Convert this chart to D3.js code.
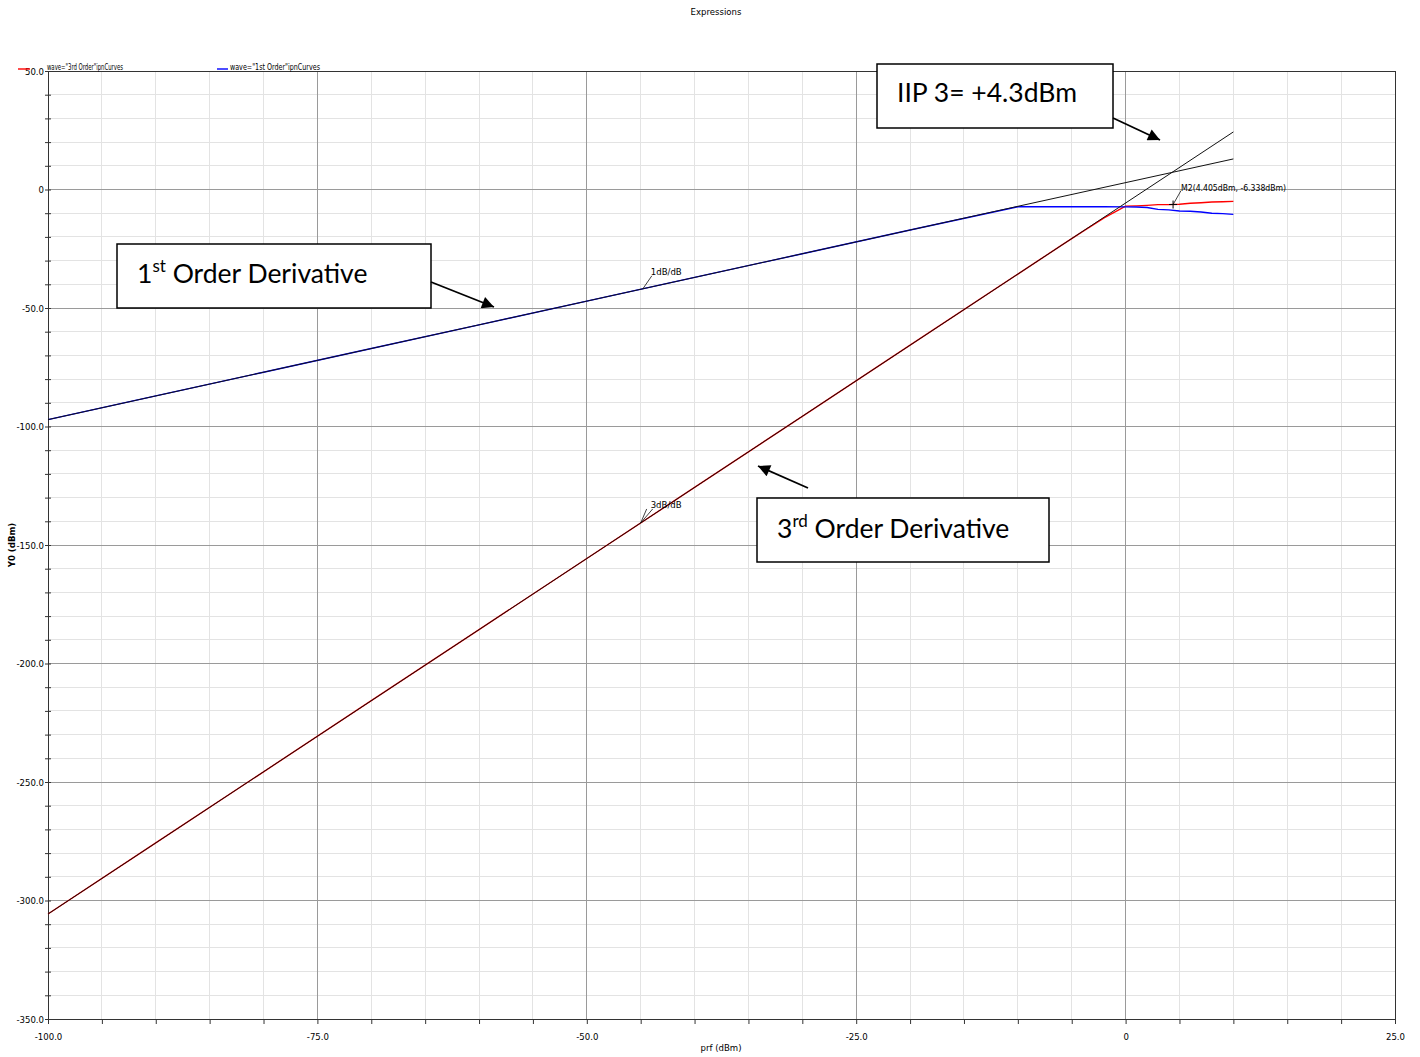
<!DOCTYPE html>
<html>
<head>
<meta charset="utf-8">
<script src="https://cdn.jsdelivr.net/npm/d3@7"></script>
<style>
  html, body { margin: 0; padding: 0; background: #fff; }
  svg { display: block; }
  .small { font-family: "Liberation Sans Narrow", "DejaVu Sans Condensed", sans-serif; font-size: 9.5px; fill: #000; }
  .note { font-family: Lato, "Open Sans", sans-serif; font-size: 26.5px; fill: #000; }
</style>
</head>
<body>
<svg id="chart" width="1420" height="1057"></svg>
<script>
// Input power sweep (dBm)
const prf = [-100, -90, -80, -70, -60, -50, -40, -30, -20, -10, -8, -6, -4, -2, 0, 1, 2, 3, 4, 5, 6, 7, 8, 9, 10];
// 1st order (fundamental) output, dBm
const firstOrder = [-97.1, -87.1, -77.1, -67.1, -57.1, -47.1, -37.1, -27.1, -17.1, -7.3, -7.3, -7.3, -7.3, -7.3, -7.35, -7.4, -7.6, -8.4, -8.6, -9.1, -9.2, -9.5, -10.0, -10.2, -10.5];
// 3rd order intermod output, dBm
const thirdOrder = [-305.7, -275.7, -245.7, -215.7, -185.7, -155.7, -125.7, -95.7, -65.7, -35.7, -29.7, -23.7, -17.8, -12.0, -7.0, -6.9, -6.7, -6.4, -6.4, -6.2, -5.8, -5.6, -5.3, -5.2, -5.0];
// Extrapolated 1 dB/dB and 3 dB/dB lines (end points)
const fitX = [-100, 10];
const fit1 = [-97.1, 12.9];
const fit3 = [-305.7, 24.3];
// Marker M2
const markerX = 4.405, markerY = -6.338;
const iip3 = 4.3;

const xTicks = [-100, -75, -50, -25, 0, 25];
const xTickLabels = ["-100.0", "-75.0", "-50.0", "-25.0", "0", "25.0"];
const yTicks = [50, 0, -50, -100, -150, -200, -250, -300, -350];
const yTickLabels = ["50.0", "0", "-50.0", "-100.0", "-150.0", "-200.0", "-250.0", "-300.0", "-350.0"];

const svg = d3.select("#chart");
const x = d3.scaleLinear().domain([-100, 25]).range([48, 1395]);
const y = d3.scaleLinear().domain([-350, 50]).range([1019, 71]);

// Grid: minor then major
const grid = svg.append("g");
grid.selectAll(".vmin").data(d3.range(-95, 25, 5).filter(v => v % 25 !== 0)).join("line")
  .attr("x1", d => x(d)).attr("x2", d => x(d)).attr("y1", y(50)).attr("y2", y(-350))
  .attr("stroke", "#e3e3e3").attr("stroke-width", 1).attr("shape-rendering", "crispEdges");
grid.selectAll(".hmin").data(d3.range(-340, 50, 10).filter(v => v % 50 !== 0)).join("line")
  .attr("x1", x(-100)).attr("x2", x(25)).attr("y1", d => y(d)).attr("y2", d => y(d))
  .attr("stroke", "#e3e3e3").attr("stroke-width", 1).attr("shape-rendering", "crispEdges");
grid.selectAll(".vmaj").data(xTicks.slice(1, -1)).join("line")
  .attr("x1", d => x(d)).attr("x2", d => x(d)).attr("y1", y(50)).attr("y2", y(-350))
  .attr("stroke", "#9a9a9a").attr("stroke-width", 1).attr("shape-rendering", "crispEdges");
grid.selectAll(".hmaj").data(yTicks.slice(1, -1)).join("line")
  .attr("x1", x(-100)).attr("x2", x(25)).attr("y1", d => y(d)).attr("y2", d => y(d))
  .attr("stroke", "#9a9a9a").attr("stroke-width", 1).attr("shape-rendering", "crispEdges");

// Frame
svg.append("rect").attr("x", x(-100)).attr("y", y(50))
  .attr("width", x(25) - x(-100)).attr("height", y(-350) - y(50))
  .attr("fill", "none").attr("stroke", "#333").attr("stroke-width", 1).attr("shape-rendering", "crispEdges");

// Axes
const xAxis = d3.axisBottom(x).tickValues(d3.range(-100, 26, 5)).tickSize(5)
  .tickFormat(d => { const i = xTicks.indexOf(d); return i >= 0 ? xTickLabels[i] : ""; });
const gx = svg.append("g").attr("transform", `translate(0,${y(-350)})`).call(xAxis);
gx.select(".domain").attr("stroke", "#333");
gx.selectAll(".tick line").attr("stroke", "#333");
gx.selectAll("text").attr("class", "small").attr("dy", null).attr("y", 21);

const yAxis = d3.axisLeft(y).tickValues(d3.range(-350, 51, 10)).tickSize(3)
  .tickFormat(d => { const i = yTicks.indexOf(d); return i >= 0 ? yTickLabels[i] : ""; });
const gy = svg.append("g").attr("transform", `translate(${x(-100)},0)`).call(yAxis);
gy.select(".domain").attr("stroke", "#333");
gy.selectAll(".tick line").attr("stroke", "#333").attr("x2", 3).attr("x1", -3);
gy.selectAll("text").attr("class", "small").attr("x", -4);

// Traces
const pts = vals => prf.map((p, i) => [x(p), y(vals[i])]);
svg.append("path").attr("d", d3.line()(pts(thirdOrder)))
  .attr("fill", "none").attr("stroke", "#ff0000").attr("stroke-width", 1.4);
svg.append("path").attr("d", d3.line()(pts(firstOrder)))
  .attr("fill", "none").attr("stroke", "#0000ff").attr("stroke-width", 1.4);

// Extrapolation lines
const fitLine = vals => d3.line()(fitX.map((p, i) => [x(p), y(vals[i])]));
svg.append("path").attr("d", fitLine(fit1)).attr("fill", "none").attr("stroke", "#111").attr("stroke-width", 1);
svg.append("path").attr("d", fitLine(fit3)).attr("fill", "none").attr("stroke", "#111").attr("stroke-width", 1);

// Slope labels with leaders
const onFit = (vals, px) => vals[0] + (px - fitX[0]) * (vals[1] - vals[0]) / (fitX[1] - fitX[0]);
const lbl1x = -44.8, lbl1y = onFit(fit1, lbl1x);
svg.append("line").attr("x1", x(lbl1x)).attr("y1", y(lbl1y)).attr("x2", x(lbl1x) + 9).attr("y2", y(lbl1y) - 13)
  .attr("stroke", "#111").attr("stroke-width", 0.8);
svg.append("text").attr("class", "small").attr("x", x(lbl1x) + 8).attr("y", y(lbl1y) - 14).text("1dB/dB");

const lbl3x = -45.0, lbl3y = onFit(fit3, lbl3x);
svg.append("line").attr("x1", x(lbl3x)).attr("y1", y(lbl3y)).attr("x2", x(lbl3x) + 12).attr("y2", y(lbl3y) - 14)
  .attr("stroke", "#111").attr("stroke-width", 0.8);
svg.append("line").attr("x1", x(lbl3x)).attr("y1", y(lbl3y)).attr("x2", x(lbl3x) + 6).attr("y2", y(lbl3y) - 14)
  .attr("stroke", "#111").attr("stroke-width", 0.8);
svg.append("text").attr("class", "small").attr("x", x(lbl3x) + 10).attr("y", y(lbl3y) - 15).text("3dB/dB");

// Marker M2
const mx = x(markerX), my = y(markerY);
svg.append("line").attr("x1", mx - 4).attr("x2", mx + 4).attr("y1", my).attr("y2", my).attr("stroke", "#000");
svg.append("line").attr("x1", mx).attr("x2", mx).attr("y1", my - 4).attr("y2", my + 4).attr("stroke", "#000");
svg.append("line").attr("x1", mx).attr("y1", my).attr("x2", mx + 8).attr("y2", my - 14)
  .attr("stroke", "#111").attr("stroke-width", 0.8);
svg.append("text").attr("class", "small").attr("x", mx + 8).attr("y", my - 14)
  .attr("textLength", 105).attr("lengthAdjust", "spacingAndGlyphs")
  .text(`M2(${markerX.toFixed(3)}dBm, ${markerY.toFixed(3)}dBm)`);

// Title and axis titles
svg.append("text").attr("class", "small").attr("x", 716).attr("y", 15).attr("text-anchor", "middle").text("Expressions");
svg.append("text").attr("class", "small").attr("x", 721).attr("y", 1051).attr("text-anchor", "middle").text("prf (dBm)");
svg.append("text").attr("class", "small").attr("font-weight", "bold").attr("font-size", 8)
  .attr("transform", "translate(15,545) rotate(-90)").attr("text-anchor", "middle").text("Y0 (dBm)");

// Legend
svg.append("line").attr("x1", 18).attr("x2", 30).attr("y1", 69).attr("y2", 69).attr("stroke", "#ff0000").attr("stroke-width", 1.4);
svg.append("text").attr("class", "small").attr("x", 47).attr("y", 70).attr("font-size", 8)
  .attr("textLength", 76).attr("lengthAdjust", "spacingAndGlyphs").text("wave=\"3rd Order\"ipnCurves");
svg.append("line").attr("x1", 217).attr("x2", 228).attr("y1", 69).attr("y2", 69).attr("stroke", "#0000ff").attr("stroke-width", 1.4);
svg.append("text").attr("class", "small").attr("x", 230).attr("y", 70).attr("font-size", 8)
  .attr("textLength", 90).attr("lengthAdjust", "spacingAndGlyphs").text("wave=\"1st Order\"ipnCurves");

// Callout boxes with arrows
const defs = svg.append("defs");
defs.append("marker").attr("id", "arrow").attr("viewBox", "0 0 10 10").attr("refX", 10).attr("refY", 5)
  .attr("markerWidth", 16).attr("markerHeight", 12).attr("markerUnits", "userSpaceOnUse").attr("orient", "auto")
  .append("path").attr("d", "M0,0 L10,5 L0,10 Z").attr("fill", "#000");

function callout(bx, by, bw, bh, parts, tx, ty, ax1, ay1, ax2, ay2) {
  svg.append("rect").attr("x", bx).attr("y", by).attr("width", bw).attr("height", bh)
    .attr("fill", "#fff").attr("stroke", "#000").attr("stroke-width", 1.5);
  const t = svg.append("text").attr("class", "note").attr("x", tx).attr("y", ty);
  parts.forEach(p => {
    const s = t.append("tspan").text(p.t);
    if (p.sup) s.attr("font-size", 17).attr("dy", -11);
    if (p.back) s.attr("dy", 11);
  });
  svg.append("line").attr("x1", ax1).attr("y1", ay1).attr("x2", ax2).attr("y2", ay2)
    .attr("stroke", "#000").attr("stroke-width", 1.8).attr("marker-end", "url(#arrow)");
}
callout(877, 64, 236, 64, [{ t: "IIP 3= +" + iip3 + "dBm" }], 897, 102, 1113, 118, 1160, 140);
callout(117, 244, 314, 64, [{ t: "1" }, { t: "st", sup: true }, { t: " Order Derivative", back: true }], 137, 283, 431, 282, 494, 307);
callout(757, 498, 292, 64, [{ t: "3" }, { t: "rd", sup: true }, { t: " Order Derivative", back: true }], 777, 538, 808, 488, 758, 466);
</script>
</body>
</html>
